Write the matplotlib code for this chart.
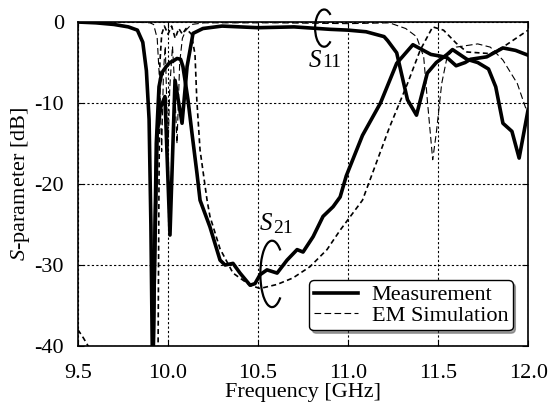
import matplotlib
matplotlib.use("Agg")
import numpy as np
import matplotlib.pyplot as plt
from matplotlib.patches import Arc

plt.rcParams["font.family"] = ["Liberation Serif", "DejaVu Serif"]
plt.rcParams["mathtext.fontset"] = "custom"
plt.rcParams["mathtext.rm"] = "Liberation Serif"
plt.rcParams["mathtext.it"] = "Liberation Serif:italic"
plt.rcParams["axes.unicode_minus"] = False

#### measured S11
s11_meas_f = [9.5, 9.6, 9.7, 9.78, 9.83, 9.86, 9.88, 9.895, 9.905, 9.915, 9.925,
              9.94, 9.96, 9.983, 10.011, 10.039, 10.078, 10.106, 10.139, 10.194,
              10.3, 10.5, 10.7, 10.9, 11.0, 11.1, 11.2, 11.22, 11.27, 11.33, 11.38,
              11.44, 11.49, 11.55, 11.58, 11.62, 11.66, 11.72, 11.78, 11.82, 11.86,
              11.91, 11.95, 12.0]
s11_meas_db = [0.0, -0.1, -0.3, -0.6, -1.0, -2.5, -6, -12, -25, -45, -30,
               -13.7, -10.5, -9.2, -26.3, -7.2, -12.5, -5.5, -1.4, -0.8,
               -0.5, -0.7, -0.6, -0.9, -1.0, -1.2, -1.8, -2.3, -3.8, -9.6, -11.5,
               -6.3, -5.0, -4.0, -3.4, -4.0, -4.6, -5.0, -5.8, -8.0, -12.5,
               -13.5, -16.8, -10.8]

#### measured S21
s21_meas_f = [9.9, 9.915, 9.925, 9.935, 9.95, 9.965, 9.99, 10.01, 10.03, 10.05,
              10.07, 10.083, 10.111, 10.133, 10.161, 10.178, 10.233, 10.289, 10.317,
              10.361, 10.4, 10.456, 10.483, 10.511, 10.55, 10.606, 10.661, 10.717,
              10.75, 10.806, 10.861, 10.917, 10.956, 10.99, 11.08, 11.18, 11.27,
              11.36, 11.46, 11.51, 11.55, 11.6, 11.65, 11.68, 11.77, 11.86, 11.93, 12.0]
s21_meas_db = [-50, -45, -30, -15, -8, -6.3, -5.5, -5.0, -4.8, -4.5,
               -4.6, -5.5, -9.6, -13.7, -18.7, -22, -25.3, -29.4, -30,
               -29.8, -31, -32.5, -32.3, -31.2, -30.6, -31, -29.4, -28.1,
               -28.4, -26.5, -24, -22.8, -21.6, -19, -14, -10, -5.1,
               -2.8, -4.0, -4.2, -4.4, -5.4, -5.0, -4.6, -4.3, -3.2, -3.5, -4.1]

#### EM simulation S11
s11_sim_f = [9.5, 9.8, 9.9, 9.92, 9.94, 9.955, 9.965, 9.975, 9.985, 10.0, 10.01,
             10.025, 10.035, 10.05, 10.065, 10.08, 10.1, 10.13, 10.2, 10.6, 11.0,
             11.23, 11.32, 11.38, 11.42, 11.44, 11.47, 11.49, 11.52, 11.55, 11.6,
             11.72, 11.79, 11.86, 11.94, 12.0]
s11_sim_db = [0.0, 0.0, -0.1, -0.3, -2, -8, -16, -6, -3, -16, -8,
              -3, -7, -15, -5, -2, -1, -0.3, -0.1, -0.1, -0.2,
              -0.1, -0.8, -1.8, -4.3, -9.6, -17, -13.7, -7.6, -4.3, -3.1,
              -2.7, -3.1, -4.7, -7.6, -11.5]

#### EM simulation S21
s21_sim_f = [9.5, 9.53, 9.57, 9.6, 9.93, 9.945, 9.95, 9.955, 9.965, 9.98, 10.0,
             10.02, 10.04, 10.06, 10.08, 10.1, 10.13, 10.15, 10.16, 10.178, 10.217,
             10.233, 10.289, 10.361, 10.456, 10.511, 10.606, 10.694, 10.789, 10.883,
             10.956, 11.08, 11.23, 11.33, 11.4, 11.47, 11.53, 11.6, 11.66, 11.79,
             11.86, 12.0]
s21_sim_db = [-38, -39, -40.5, -45, -50, -40, -20, -5, -1.5, -0.5, -1.5,
              -0.5, -2, -0.8, -1.5, -0.8, -1.5, -4, -9.6, -15.8, -22,
              -24, -28, -31, -32.5, -32.9, -32.4, -31.6, -30.2, -28.1,
              -25.7, -22, -13, -7.6, -3.5, -0.6, -1.0, -2.6, -3.7, -3.9,
              -3.1, -1.0]

fig = plt.figure(figsize=(5.49, 4.08), dpi=100)
ax = fig.add_axes([0.142, 0.152, 0.82, 0.794])

ax.plot(s11_meas_f, s11_meas_db, color="black", lw=2.6, label="Measurement")
ax.plot(s21_meas_f, s21_meas_db, color="black", lw=2.6)
ax.plot(s11_sim_f, s11_sim_db, color="black", lw=0.8, dashes=(6, 3), label="EM Simulation")
ax.plot(s21_sim_f, s21_sim_db, color="black", lw=1.2, dashes=(3, 2))


def c_loop(cx, cy, w, h, gap=45, **kw):
    # Arc angles are geometric in data units; convert from parametric gap
    t = np.radians(gap)
    a = np.degrees(np.arctan2(h * np.sin(t), w * np.cos(t)))
    return Arc((cx, cy), w, h, theta1=a, theta2=360 - a, **kw)


# S11 / S21 marker loops (open on the right)
ax.add_patch(c_loop(10.867, -0.75, 0.1, 4.6, color="black", lw=1.6, clip_on=False))
ax.add_patch(c_loop(10.578, -31.1, 0.13, 8.2, color="black", lw=1.6))

# labels: italic S with upright subscript digits
ax.text(10.856, -5.55, "$S$", fontsize=18, ha="right", va="baseline")
ax.text(10.856, -5.55, "11", fontsize=14, ha="left", va="baseline")
ax.text(10.583, -25.7, "$S$", fontsize=18, ha="right", va="baseline")
ax.text(10.583, -26.0, "21", fontsize=14, ha="left", va="baseline")

ax.set_xlim(9.5, 12.0)
ax.set_ylim(-40, 0)
ax.set_xticks([9.5, 10.0, 10.5, 11.0, 11.5, 12.0])
ax.set_xticklabels(["9.5", "10.0", "10.5", "11.0", "11.5", "12.0"])
ax.set_yticks([-40, -30, -20, -10, 0])
ax.tick_params(direction="in", top=True, right=True, labelsize=16, length=4)
ax.tick_params(axis="x", pad=13)
ax.tick_params(axis="y", pad=10)
ax.grid(True, color="black", lw=0.8, linestyle=(0, (2, 2)))
for s in ax.spines.values():
    s.set_linewidth(1.2)

ax.set_xlabel("Frequency [GHz]", fontsize=16, labelpad=0)
ax.set_ylabel(r"$S$-parameter [dB]", fontsize=16, labelpad=2)

leg = ax.legend(loc="lower right", fontsize=16, fancybox=True, shadow=True,
                framealpha=1, edgecolor="black", handlelength=2.0,
                borderaxespad=0.7, labelspacing=0.0, borderpad=0.2,
                handletextpad=0.6)
leg.get_frame().set_linewidth(1.0)

fig.savefig("out.png", dpi=100)
